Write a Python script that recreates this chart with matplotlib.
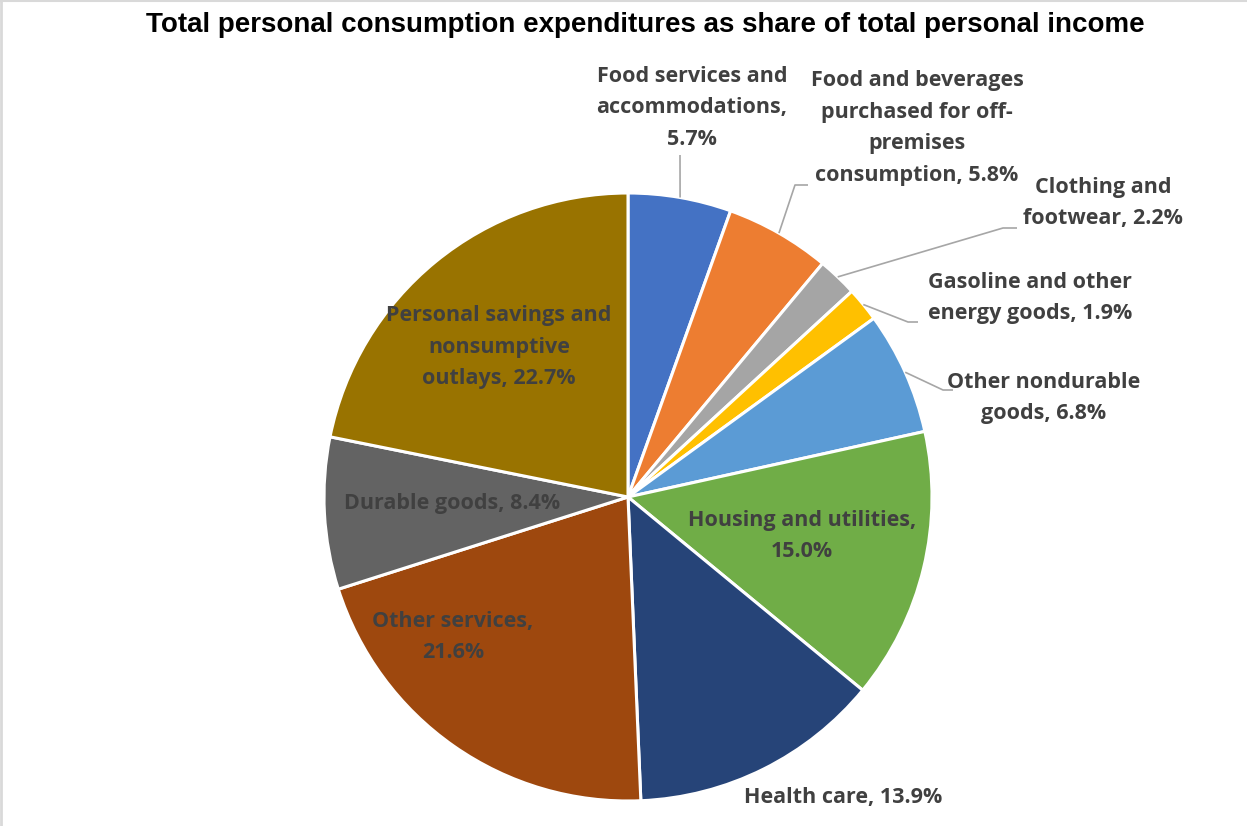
import matplotlib
matplotlib.use("Agg")
import matplotlib.pyplot as plt
from matplotlib import font_manager
import numpy as np

# Shares of total personal income (percent)
categories = [
    "Food services and\naccommodations,\n",
    "Food and beverages\npurchased for off-\npremises\nconsumption,",
    "Clothing and\nfootwear,",
    "Gasoline and other\nenergy goods,",
    "Other nondurable\ngoods,",
    "Housing and utilities,\n",
    "Health care,",
    "Other services,\n",
    "Durable goods,",
    "Personal savings and\nnonsumptive\noutlays,",
]
values = [5.7, 5.8, 2.2, 1.9, 6.8, 15.0, 13.9, 21.6, 8.4, 22.7]
colors = ["#4472C4", "#ED7D31", "#A5A5A5", "#FFC000", "#5B9BD5",
          "#70AD47", "#264478", "#9E480E", "#636363", "#997300"]
title = "Total personal consumption expenditures as share of total personal income"

# Layout in pixel units (figure is 1247 x 826, y grows downward)
W, H = 1247, 826
cx, cy, R = 628, 497, 304
# label centre, plus optional leader-line path (elbow, end) for outside labels
label_pos = [(692, 108), (917, 128), (1103, 203), (1030, 298), (1044, 398),
             (802, 536), (843, 797), (453, 637), (452, 503), (499, 347)]
leaders = [
    [(680, 155)],
    [(795, 185), (808, 185)],
    [(1003, 228), (1017, 228)],
    [(908, 322), (918, 322)],
    [(943, 390), (953, 390)],
    None, None, None, None, None,
]

names = {f.name for f in font_manager.fontManager.ttflist}
title_font = "Liberation Sans"
label_font = "Open Sans" if "Open Sans" in names else "DejaVu Sans"

fig = plt.figure(figsize=(W / 100, H / 100), dpi=100)
ax = fig.add_axes([0, 0, 1, 1])

wedges, _ = ax.pie(values, colors=colors, startangle=-90, counterclock=True,
                   radius=R, center=(cx, cy),
                   wedgeprops=dict(edgecolor="white", linewidth=2.2))
ax.set_xlim(0, W)
ax.set_ylim(H, 0)
ax.set_aspect("auto")
ax.axis("off")

total = sum(values)
cum = np.cumsum([0] + values)
for i, (name, v) in enumerate(zip(categories, values)):
    text = f"{name} {v:.1f}%" if not name.endswith("\n") else f"{name}{v:.1f}%"
    tx, ty = label_pos[i]
    ax.text(tx, ty, text, ha="center", va="center", multialignment="center",
            fontsize=15.5, fontweight="bold", color="#404040",
            family=label_font, linespacing=1.68)
    if leaders[i] is not None:
        mid = np.deg2rad((cum[i] + v / 2) / total * 360.0)
        sx, sy = cx + R * np.sin(mid), cy - R * np.cos(mid)
        pts = [(sx, sy)] + leaders[i]
        xs, ys = zip(*pts)
        ax.plot(xs, ys, color="#A6A6A6", lw=1.2, solid_capstyle="butt")

ax.text(645, 25, title, ha="center", va="center", fontsize=20,
        fontweight="bold", color="black", family=title_font)

# thin frame on the left and top edges
ax.plot([1, 1], [0, H], color="#D9D9D9", lw=2, clip_on=False)
ax.plot([0, W], [0.5, 0.5], color="#D9D9D9", lw=1.5, clip_on=False)

fig.savefig("out.png", dpi=100, facecolor="white")
